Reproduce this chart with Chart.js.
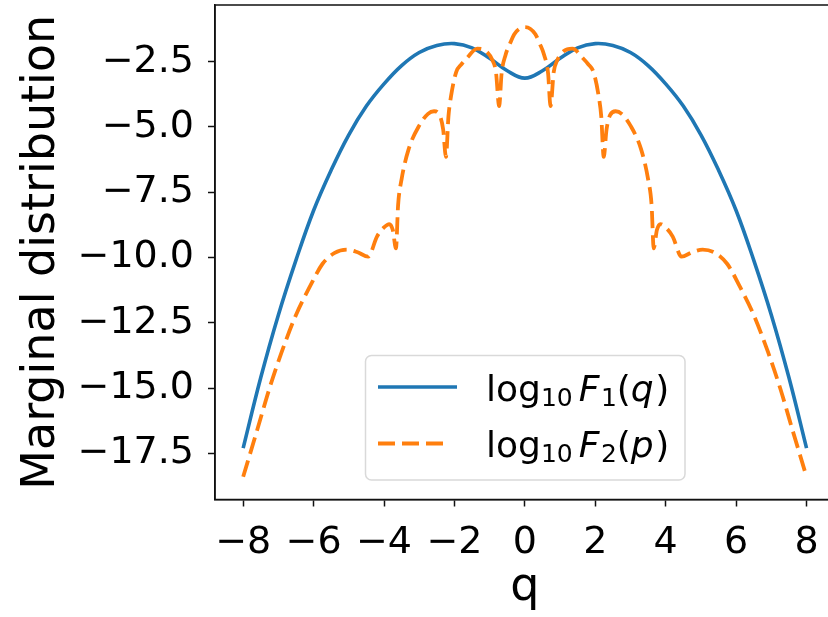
<!DOCTYPE html>
<html>
<head>
<meta charset="utf-8">
<script src="https://cdn.jsdelivr.net/npm/chart.js@4.4.0/dist/chart.umd.min.js"></script>
<style>
html,body{margin:0;padding:0;background:#fff;overflow:hidden;width:828px;height:617px;}
#wrap{position:relative;width:840px;height:617px;}
canvas{display:block;}
</style>
</head>
<body>
<div id="wrap"><canvas id="c" width="840" height="617"></canvas></div>
<script>
// ---- data ----
const blueQ = [-8,-7.5,-7,-6.5,-6,-5.5,-5,-4.5,-4,-3.5,-3,-2.5,-2,-1.5,-1,-0.5,0,0.5,1,1.5,2,2.5,3,3.5,4,4.5,5,5.5,6,6.5,7,7.5,8];
const blueVals = [-17.3,-14.6,-12.2,-10.1,-8.2,-6.65,-5.3,-4.2,-3.35,-2.65,-2.15,-1.88,-1.81,-1.97,-2.37,-2.85,-3.13,-2.85,-2.37,-1.97,-1.81,-1.88,-2.15,-2.65,-3.35,-4.2,-5.3,-6.65,-8.2,-10.1,-12.2,-14.6,-17.3];

const orangeQ = [-8,-7.6,-7.25,-6.9,-6.5,-6.1,-5.75,-5.4,-5.05,-4.75,-4.45,-4.2,-4.0,-3.85,-3.75,-3.66,-3.6,-3.5,-3.3,-3.0,-2.75,-2.58,-2.42,-2.32,-2.24,-2.17,-2.1,-1.95,-1.8,-1.65,-1.35,-1.1,-0.92,-0.82,-0.73,-0.66,-0.55,-0.42,-0.3,-0.15,0,
  0.15,0.3,0.42,0.55,0.66,0.73,0.82,0.92,1.1,1.35,1.65,1.8,1.95,2.1,2.17,2.24,2.32,2.42,2.58,2.75,3.0,3.3,3.5,3.6,3.66,3.75,3.85,4.0,4.2,4.45,4.75,5.05,5.4,5.75,6.1,6.5,6.9,7.25,7.6,8];
const orangeVals = [-18.4,-16.6,-15.0,-13.6,-12.2,-11.1,-10.25,-9.82,-9.7,-9.8,-9.97,-9.2,-8.85,-8.72,-8.95,-9.65,-8.0,-7.0,-5.85,-4.95,-4.5,-4.4,-4.55,-5.1,-6.15,-4.6,-3.85,-2.9,-2.6,-2.37,-2.0,-2.1,-2.45,-2.9,-4.2,-2.95,-2.25,-1.8,-1.45,-1.24,-1.18,
  -1.24,-1.45,-1.8,-2.25,-2.95,-4.2,-2.9,-2.45,-2.1,-2.0,-2.37,-2.6,-2.9,-3.85,-4.6,-6.15,-5.1,-4.55,-4.4,-4.5,-4.95,-5.85,-7.0,-8.0,-9.65,-8.95,-8.72,-8.85,-9.2,-9.97,-9.8,-9.7,-9.82,-10.25,-11.1,-12.2,-13.6,-15.0,-16.6,-18.4];

const xTicks = [-8,-6,-4,-2,0,2,4,6,8];
const yTicks = [-17.5,-15,-12.5,-10,-7.5,-5,-2.5];
const seriesLabels = ['log₁₀ F₁(q)', 'log₁₀ F₂(p)'];
const xTitle = 'q';
const yTitle = 'Marginal distribution';
// legend labels in math-text pieces
const legendParts = [
  [{t:'log'},{t:'10',sub:true},{t:' ',thin:true},{t:'F',it:true},{t:'1',sub:true},{t:'('},{t:'q',it:true},{t:')'}],
  [{t:'log'},{t:'10',sub:true},{t:' ',thin:true},{t:'F',it:true},{t:'2',sub:true},{t:'('},{t:'p',it:true},{t:')'}]
];

const FONT = '"DejaVu Sans", sans-serif';
const fmt = (v, d) => (v < 0 ? '\u2212' : '') + Math.abs(v).toFixed(d);

const frame = {
  id: 'frame',
  afterDraw(chart) {
    const {ctx, chartArea: a} = chart;
    ctx.save();
    ctx.strokeStyle = '#111';
    ctx.lineWidth = 1.5;
    ctx.strokeRect(a.left, a.top, a.right - a.left, a.bottom - a.top);
    ctx.restore();
  }
};

function drawMath(ctx, x, y, parts) {
  const main = 36, sub = 25;
  parts.forEach(p => {
    if (p.thin) { x += 6; return; }
    const size = p.sub ? sub : main;
    ctx.font = (p.it ? 'italic ' : '') + size + 'px ' + FONT;
    ctx.fillStyle = '#000';
    ctx.textBaseline = 'alphabetic';
    ctx.textAlign = 'left';
    ctx.fillText(p.t, x, y + (p.sub ? 5 : 0));
    x += ctx.measureText(p.t).width + (p.it ? 1.5 : 0);
  });
}

const mplLegend = {
  id: 'mplLegend',
  afterDraw(chart) {
    const ctx = chart.ctx;
    ctx.save();
    const bx = 365.5, by = 355.5, bw = 319.5, bh = 124.5;
    ctx.beginPath();
    ctx.roundRect(bx, by, bw, bh, 6);
    ctx.fillStyle = 'rgba(255,255,255,0.85)';
    ctx.fill();
    ctx.strokeStyle = '#d9d9d9';
    ctx.lineWidth = 1.5;
    ctx.stroke();
    chart.data.datasets.forEach((ds, i) => {
      const y = 387 + i * 56.5;
      ctx.beginPath();
      ctx.setLineDash(ds.borderDash || []);
      ctx.strokeStyle = ds.borderColor;
      ctx.lineWidth = ds.borderWidth;
      ctx.lineCap = 'butt';
      ctx.moveTo(378, y);
      ctx.lineTo(ds.borderDash ? 446 : 457, y);
      ctx.stroke();
      ctx.setLineDash([]);
      drawMath(ctx, 486, y + 13.5, legendParts[i]);
    });
    ctx.restore();
  }
};

new Chart(document.getElementById('c'), {
  type: 'line',
  data: {
    datasets: [
      {
        label: seriesLabels[0],
        data: blueQ.map((q, i) => ({x: q, y: blueVals[i]})),
        borderColor: '#1f77b4',
        borderWidth: 3.6,
        pointRadius: 0,
        tension: 0.4,
        fill: false,
        order: 1
      },
      {
        label: seriesLabels[1],
        data: orangeQ.map((q, i) => ({x: q, y: orangeVals[i]})),
        borderColor: '#ff7f0e',
        borderWidth: 3.8,
        borderDash: [17, 7],
        pointRadius: 0,
        cubicInterpolationMode: 'monotone',
        fill: false,
        order: 0
      }
    ]
  },
  options: {
    responsive: false,
    animation: false,
    devicePixelRatio: 1,
    layout: {padding: {top: 5, right: 5.3, left: 0, bottom: 0}},
    plugins: {legend: {display: false}, tooltip: {enabled: false}},
    scales: {
      x: {
        type: 'linear',
        min: -8.8, max: 8.8,
        afterBuildTicks: s => { s.ticks = xTicks.map(v => ({value: v})); },
        afterFit: s => { s.height = 117.5; s.paddingLeft = 0; s.paddingRight = 0; },
        grid: {drawOnChartArea: false, drawTicks: true, tickLength: 7, tickColor: '#111', tickWidth: 1.5},
        border: {display: true, color: '#111', width: 1.5},
        ticks: {
          autoSkip: false, maxRotation: 0, padding: 14,
          color: '#000', font: {family: FONT, size: 38},
          callback: v => fmt(v, 0)
        },
        title: {display: true, text: xTitle, color: '#000', font: {family: FONT, size: 46}, padding: {top: 0, bottom: 1.5}}
      },
      y: {
        type: 'linear',
        min: -19.27, max: -0.33,
        afterBuildTicks: s => { s.ticks = yTicks.map(v => ({value: v})); },
        afterFit: s => { s.width = 215; s.paddingTop = 0; s.paddingBottom = 0; },
        grid: {drawOnChartArea: false, drawTicks: true, tickLength: 7, tickColor: '#111', tickWidth: 1.5},
        border: {display: true, color: '#111', width: 1.5},
        ticks: {
          autoSkip: false, padding: 14,
          color: '#000', font: {family: FONT, size: 38},
          callback: v => fmt(v, 1)
        },
        title: {display: true, text: yTitle, color: '#000', font: {family: FONT, size: 46}, padding: {top: 14.4, bottom: 0}}
      }
    }
  },
  plugins: [frame, mplLegend]
});
</script>
</body>
</html>
